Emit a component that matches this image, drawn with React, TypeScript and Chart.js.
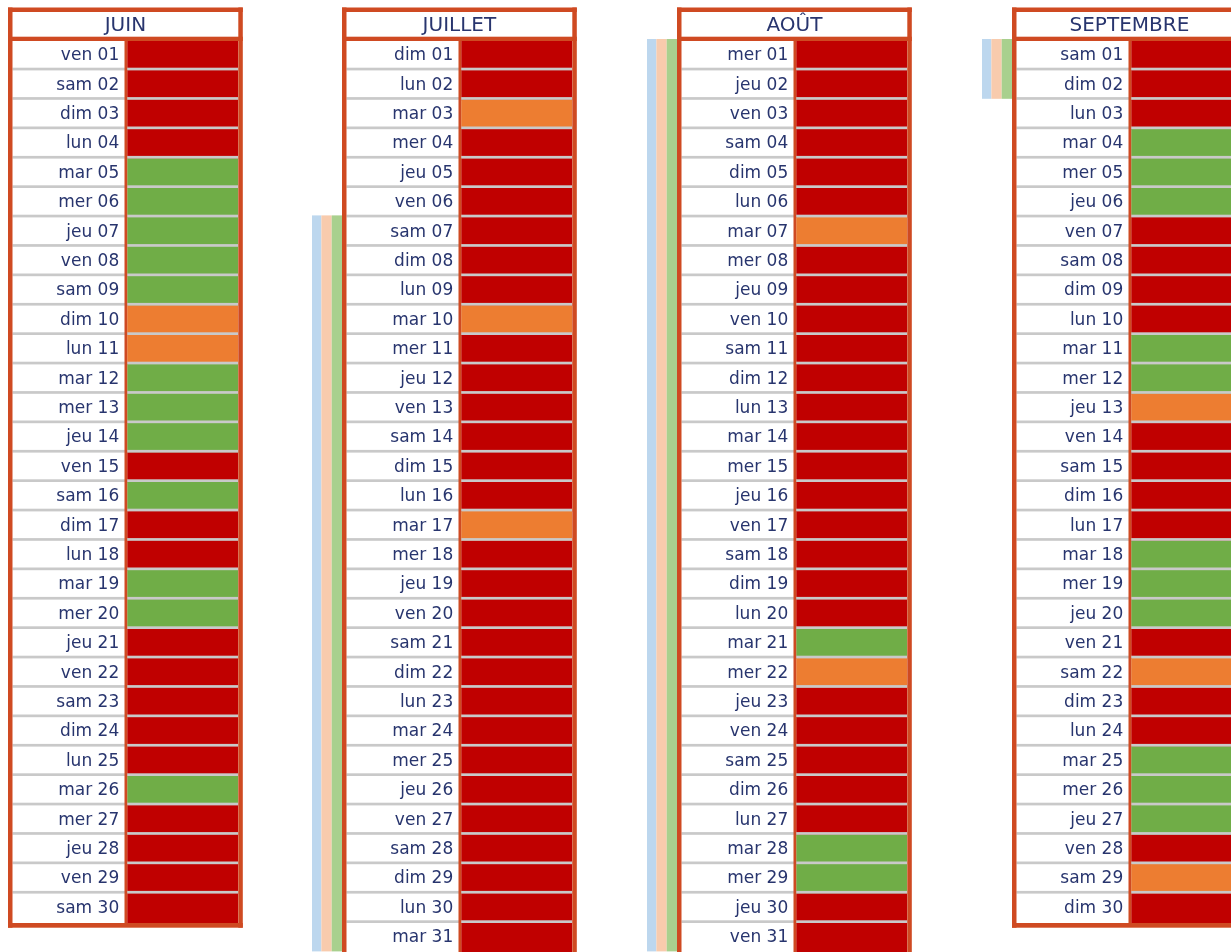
import React, { useEffect, useRef } from 'react';
import { Chart, registerables } from 'chart.js';

Chart.register(...registerables);

// ---------- DATA ----------
const MONTHS = ['JUIN', 'JUILLET', 'AOÛT', 'SEPTEMBRE'];

const JUIN_LABELS = ['ven 01', 'sam 02', 'dim 03', 'lun 04', 'mar 05', 'mer 06', 'jeu 07', 'ven 08', 'sam 09', 'dim 10', 'lun 11', 'mar 12', 'mer 13', 'jeu 14', 'ven 15', 'sam 16', 'dim 17', 'lun 18', 'mar 19', 'mer 20', 'jeu 21', 'ven 22', 'sam 23', 'dim 24', 'lun 25', 'mar 26', 'mer 27', 'jeu 28', 'ven 29', 'sam 30'];
const JUILLET_LABELS = ['dim 01', 'lun 02', 'mar 03', 'mer 04', 'jeu 05', 'ven 06', 'sam 07', 'dim 08', 'lun 09', 'mar 10', 'mer 11', 'jeu 12', 'ven 13', 'sam 14', 'dim 15', 'lun 16', 'mar 17', 'mer 18', 'jeu 19', 'ven 20', 'sam 21', 'dim 22', 'lun 23', 'mar 24', 'mer 25', 'jeu 26', 'ven 27', 'sam 28', 'dim 29', 'lun 30', 'mar 31'];
const AOUT_LABELS = ['mer 01', 'jeu 02', 'ven 03', 'sam 04', 'dim 05', 'lun 06', 'mar 07', 'mer 08', 'jeu 09', 'ven 10', 'sam 11', 'dim 12', 'lun 13', 'mar 14', 'mer 15', 'jeu 16', 'ven 17', 'sam 18', 'dim 19', 'lun 20', 'mar 21', 'mer 22', 'jeu 23', 'ven 24', 'sam 25', 'dim 26', 'lun 27', 'mar 28', 'mer 29', 'jeu 30', 'ven 31'];
const SEPTEMBRE_LABELS = ['sam 01', 'dim 02', 'lun 03', 'mar 04', 'mer 05', 'jeu 06', 'ven 07', 'sam 08', 'dim 09', 'lun 10', 'mar 11', 'mer 12', 'jeu 13', 'ven 14', 'sam 15', 'dim 16', 'lun 17', 'mar 18', 'mer 19', 'jeu 20', 'ven 21', 'sam 22', 'dim 23', 'lun 24', 'mar 25', 'mer 26', 'jeu 27', 'ven 28', 'sam 29', 'dim 30'];

// R = rouge, G = vert, O = orange
const JUIN_STATUS = ['R', 'R', 'R', 'R', 'G', 'G', 'G', 'G', 'G', 'O', 'O', 'G', 'G', 'G', 'R', 'G', 'R', 'R', 'G', 'G', 'R', 'R', 'R', 'R', 'R', 'G', 'R', 'R', 'R', 'R'];
const JUILLET_STATUS = ['R', 'R', 'O', 'R', 'R', 'R', 'R', 'R', 'R', 'O', 'R', 'R', 'R', 'R', 'R', 'R', 'O', 'R', 'R', 'R', 'R', 'R', 'R', 'R', 'R', 'R', 'R', 'R', 'R', 'R', 'R'];
const AOUT_STATUS = ['R', 'R', 'R', 'R', 'R', 'R', 'O', 'R', 'R', 'R', 'R', 'R', 'R', 'R', 'R', 'R', 'R', 'R', 'R', 'R', 'G', 'O', 'R', 'R', 'R', 'R', 'R', 'G', 'G', 'R', 'R'];
const SEPTEMBRE_STATUS = ['R', 'R', 'R', 'G', 'G', 'G', 'R', 'R', 'R', 'R', 'G', 'G', 'O', 'R', 'R', 'R', 'R', 'G', 'G', 'G', 'R', 'O', 'R', 'R', 'G', 'G', 'G', 'R', 'O', 'R'];

// side stripes: [first day, last day] or null
const STRIPE_RANGES: (number[] | null)[] = [null, [7, 31], [1, 31], [1, 2]];

const LABELS = [JUIN_LABELS, JUILLET_LABELS, AOUT_LABELS, SEPTEMBRE_LABELS];
const STATUS = [JUIN_STATUS, JUILLET_STATUS, AOUT_STATUS, SEPTEMBRE_STATUS];

// ---------- STYLE / LAYOUT ----------
const STATUS_COLORS: Record<string, string> = { R: '#C00000', G: '#70AD47', O: '#ED7D31' };
const STRIPE_COLORS = ['#BDD7EE', '#F8CBAD', '#A9D08E'];
const BORDER_COLOR = '#CF4A22';
const GRID_COLOR = '#C9C9C9';
const TEXT_COLOR = '#28356E';
const FONT = "'DejaVu Sans', sans-serif";

const BLOCK_LEFTS = [8, 342, 677, 1012];
const OFF = 30; // canvas space left of block for stripes
const CANVAS_W = 265;
const CANVAS_H = 980;
const B = 4.5; // border thickness
const OUTER_W = 234.8;
const INNER_RIGHT = 230.3;
const COL_LEFT = 119.2; // start of colour column (relative to block)
const DIVIDER_W = 2.7;
const ROW_TOP = 41;
const ROW_H = 29.4;

const calendarPlugin = {
  id: 'calendar',
  afterDatasetsDraw(chart: any, _args: any, opts: any) {
    const { ctx } = chart;
    const y = chart.scales.y;
    const n = chart.data.labels.length;
    const L = OFF;
    const top = y.getPixelForValue(-0.5);
    const bottom = y.getPixelForValue(n - 0.5);
    ctx.save();
    // row separators
    ctx.fillStyle = GRID_COLOR;
    for (let i = 1; i < n; i++) {
      const b = y.getPixelForValue(i - 0.5);
      ctx.fillRect(L + B, b - 2.7, INNER_RIGHT - B, 2.7);
    }
    // side stripes
    if (opts.stripe) {
      const [s, e] = opts.stripe;
      const t = y.getPixelForValue(s - 1.5) - 2;
      const bt = y.getPixelForValue(e - 0.5) - 1;
      const w = 10.3;
      STRIPE_COLORS.forEach((c, k) => {
        ctx.fillStyle = c;
        ctx.fillRect(L - 3 * w + k * w, t, w, bt - t);
      });
    }
    // header background
    ctx.fillStyle = '#FFFFFF';
    ctx.fillRect(L + B, 12, INNER_RIGHT - B, top - 4.3 - 12);
    // borders
    ctx.fillStyle = BORDER_COLOR;
    ctx.fillRect(L, 7.5, OUTER_W, B);
    ctx.fillRect(L, top - 4.3, OUTER_W, 4.3);
    ctx.fillRect(L, 7.5, B, bottom + 4.7 - 7.5);
    ctx.fillRect(L + INNER_RIGHT, 7.5, B, bottom + 4.7 - 7.5);
    ctx.fillRect(L, bottom, OUTER_W, 4.7);
    ctx.fillRect(L + COL_LEFT - DIVIDER_W, top, DIVIDER_W, bottom - top);
    // title
    ctx.fillStyle = TEXT_COLOR;
    ctx.font = `20px ${FONT}`;
    ctx.textAlign = 'center';
    ctx.textBaseline = 'alphabetic';
    ctx.fillText(opts.title, L + OUTER_W / 2, 31);
    ctx.restore();
  },
};

function MonthChart({ idx }: { idx: number }) {
  const ref = useRef<HTMLCanvasElement>(null);
  useEffect(() => {
    const labels = LABELS[idx];
    const status = STATUS[idx];
    const n = labels.length;
    const chart = new Chart(ref.current as HTMLCanvasElement, {
      type: 'bar',
      data: {
        labels,
        datasets: [
          {
            data: labels.map(() => [0, 1]) as any,
            backgroundColor: status.map((s) => STATUS_COLORS[s]),
            borderWidth: 0,
            barPercentage: 1,
            categoryPercentage: 1,
          },
        ],
      },
      options: {
        indexAxis: 'y',
        responsive: false,
        animation: false,
        devicePixelRatio: 1,
        layout: {
          padding: {
            left: OFF + B,
            right: CANVAS_W - (OFF + INNER_RIGHT),
            top: ROW_TOP,
            bottom: CANVAS_H - ROW_TOP - n * ROW_H,
          },
        },
        scales: {
          x: { display: false, min: 0, max: 1 },
          y: {
            type: 'category',
            offset: true,
            grid: { display: false, drawTicks: false },
            border: { display: false },
            ticks: {
              autoSkip: false,
              padding: 8,
              color: TEXT_COLOR,
              font: { family: FONT, size: 17 },
            },
            afterFit: (s: any) => {
              s.width = COL_LEFT - B;
            },
          },
        },
        plugins: {
          legend: { display: false },
          tooltip: { enabled: false },
          calendar: { title: MONTHS[idx], stripe: STRIPE_RANGES[idx] },
        } as any,
      },
      plugins: [calendarPlugin],
    });
    return () => chart.destroy();
  }, [idx]);
  return (
    <canvas
      ref={ref}
      width={CANVAS_W}
      height={CANVAS_H}
      style={{ position: 'absolute', left: BLOCK_LEFTS[idx] - OFF, top: 0, width: CANVAS_W, height: CANVAS_H }}
    />
  );
}

export default function App() {
  return (
    <div
      style={{
        position: 'fixed',
        left: 0,
        top: 0,
        width: 1231,
        height: 952,
        overflow: 'hidden',
        background: '#FFFFFF',
      }}
    >
      {MONTHS.map((_, i) => (
        <MonthChart key={i} idx={i} />
      ))}
    </div>
  );
}
